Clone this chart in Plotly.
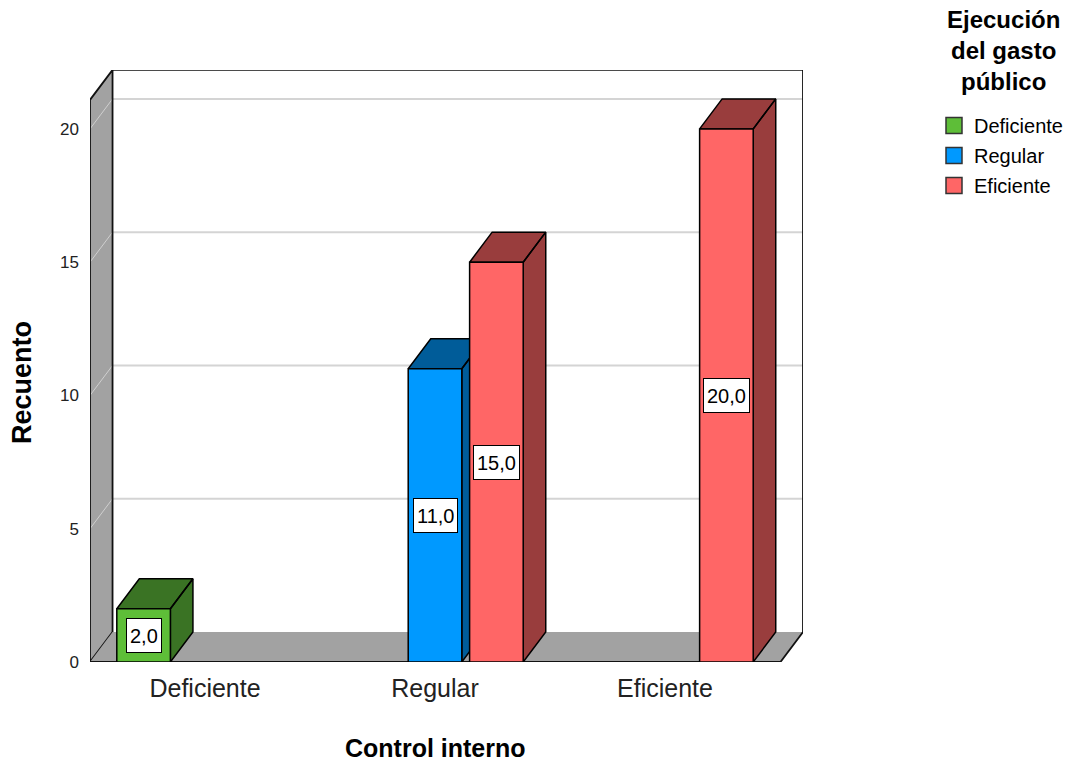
import plotly.graph_objects as go

# Counts of "Ejecución del gasto público" within each level of "Control interno"
categories = ["Deficiente", "Regular", "Eficiente"]
series_names = ["Deficiente", "Regular", "Eficiente"]
deficiente_counts = [2, None, None]
regular_counts = [None, 11, None]
eficiente_counts = [None, 15, 20]
y_ticks = [0, 5, 10, 15, 20]

front_colors = ["#5EBE38", "#0099FF", "#FF6666"]
shade_colors = ["#3A7324", "#005C99", "#993D3D"]
wall_gray = "#A2A2A2"

# 3D box geometry (axis units)
X_MIN, X_MAX = -0.5, 2.6
Y_MAX = 22.21
WALL_TOP = 21.09
DX, DY = 0.098, 1.126
BAR_W = 0.233
SLOT = 0.267

# plot-area pixel box, used to place paper-anchored text
PX_L, PX_R, PX_T, PX_B = 90, 803, 70, 662


def paper_x(px):
    return (px - PX_L) / (PX_R - PX_L)


def paper_y(py):
    return (PX_B - py) / (PX_B - PX_T)


FONT = "Liberation Sans, Arial, sans-serif"

fig = go.Figure()


def polygon(xs, ys, fill, line_color="black", width=1.5):
    fig.add_trace(go.Scatter(
        x=xs, y=ys, mode="lines", fill="toself", fillcolor=fill,
        line=dict(color=line_color, width=width),
        hoverinfo="skip", showlegend=False))


def polyline(xs, ys, color, width):
    fig.add_trace(go.Scatter(
        x=xs, y=ys, mode="lines", line=dict(color=color, width=width),
        hoverinfo="skip", showlegend=False))


# back wall gridlines
gx, gy = [], []
for v in y_ticks[1:]:
    gx += [X_MIN + DX, X_MAX, None]
    gy += [v + DY, v + DY, None]
polyline(gx, gy, "#D4D4D4", 2)

# left wall
lw_x = [X_MIN, X_MIN, X_MIN + DX, X_MIN + DX, X_MIN]
lw_y = [0, WALL_TOP, WALL_TOP + DY, DY, 0]
polygon(lw_x, lw_y, wall_gray, line_color="rgba(0,0,0,0)", width=0)
lx, ly = [], []
for v in y_ticks:
    lx += [X_MIN, X_MIN + DX, None]
    ly += [v, v + DY, None]
polyline(lx, ly, "#CFCFCF", 1)
polyline(lw_x, lw_y, "#111111", 1.8)

# floor
polygon([X_MIN, X_MAX - DX, X_MAX, X_MIN + DX, X_MIN], [0, 0, DY, DY, 0],
        wall_gray, line_color="rgba(0,0,0,0)", width=0)
polyline([X_MIN, X_MAX - DX, X_MAX], [0, 0, DY], "#111111", 1.8)

# back wall outline (top and right edges)
polyline([X_MIN + DX, X_MAX, X_MAX], [WALL_TOP + DY, WALL_TOP + DY, DY], "#111111", 1.8)

# bars: side + top faces, then front face, left to right
all_counts = [deficiente_counts, regular_counts, eficiente_counts]
annotations = []
for i, cat in enumerate(categories):
    for j, name in enumerate(series_names):
        v = all_counts[j][i]
        if not v:
            continue
        c = i + (j - 1) * SLOT
        xl, xr = c - BAR_W / 2, c + BAR_W / 2
        polygon([xr, xr + DX, xr + DX, xr, xr, None, xl, xr, xr + DX, xl + DX, xl],
                [0, DY, v + DY, v, 0, None, v, v, v + DY, v + DY, v],
                shade_colors[j])
        polygon([xl, xr, xr, xl, xl], [0, 0, v, v, 0], front_colors[j])
        annotations.append(dict(
            x=c, y=v / 2, xref="x", yref="y",
            text=f"{v:.1f}".replace(".", ","), showarrow=False,
            height=27, bgcolor="white", bordercolor="black", borderwidth=1,
            borderpad=3, font=dict(family=FONT, size=20, color="black")))

# legend entries
for j, name in enumerate(series_names):
    fig.add_trace(go.Scatter(
        x=[None], y=[None], mode="markers", name=name, legendgroup=name,
        marker=dict(symbol="square", size=16, color=front_colors[j],
                    line=dict(color="#333333", width=1.5))))

# legend heading
annotations.append(dict(
    text="<b>Ejecución<br>del gasto<br>público</b>", align="center",
    x=paper_x(1003), y=paper_y(4), xref="paper", yref="paper",
    xanchor="center", yanchor="top", showarrow=False,
    font=dict(family=FONT, size=24, color="black")))

# axis titles
annotations.append(dict(
    text="<b>Recuento</b>", x=paper_x(22), y=paper_y(383),
    xref="paper", yref="paper", xanchor="center", yanchor="middle",
    showarrow=False, textangle=-90,
    font=dict(family=FONT, size=27, color="black")))
annotations.append(dict(
    text="<b>Control interno</b>", x=paper_x(435), y=paper_y(748),
    xref="paper", yref="paper", xanchor="center", yanchor="middle",
    showarrow=False,
    font=dict(family=FONT, size=25, color="black")))

fig.update_layout(
    width=1074, height=767, autosize=False,
    margin=dict(l=PX_L, r=1074 - PX_R, t=PX_T, b=767 - PX_B),
    plot_bgcolor="white", paper_bgcolor="white",
    font=dict(family=FONT, color="#222222"),
    xaxis=dict(range=[X_MIN, X_MAX], tickvals=[0, 1, 2], ticktext=categories,
               showgrid=False, zeroline=False, showline=False, ticks="",
               tickfont=dict(size=25, color="#222222"), ticklabelstandoff=9,
               fixedrange=True),
    yaxis=dict(range=[0, Y_MAX], tickvals=y_ticks, showgrid=False,
               zeroline=False, showline=False, ticks="",
               tickfont=dict(size=17, color="#222222"), ticklabelstandoff=10,
               fixedrange=True),
    legend=dict(
        xref="container", yref="container", x=934 / 1074, y=1 - 106 / 767,
        xanchor="left", yanchor="top",
        font=dict(family=FONT, size=20, color="black"),
        tracegroupgap=1, itemsizing="trace", bgcolor="rgba(0,0,0,0)"),
    annotations=annotations,
    showlegend=True,
)

fig.write_html("out.html")
